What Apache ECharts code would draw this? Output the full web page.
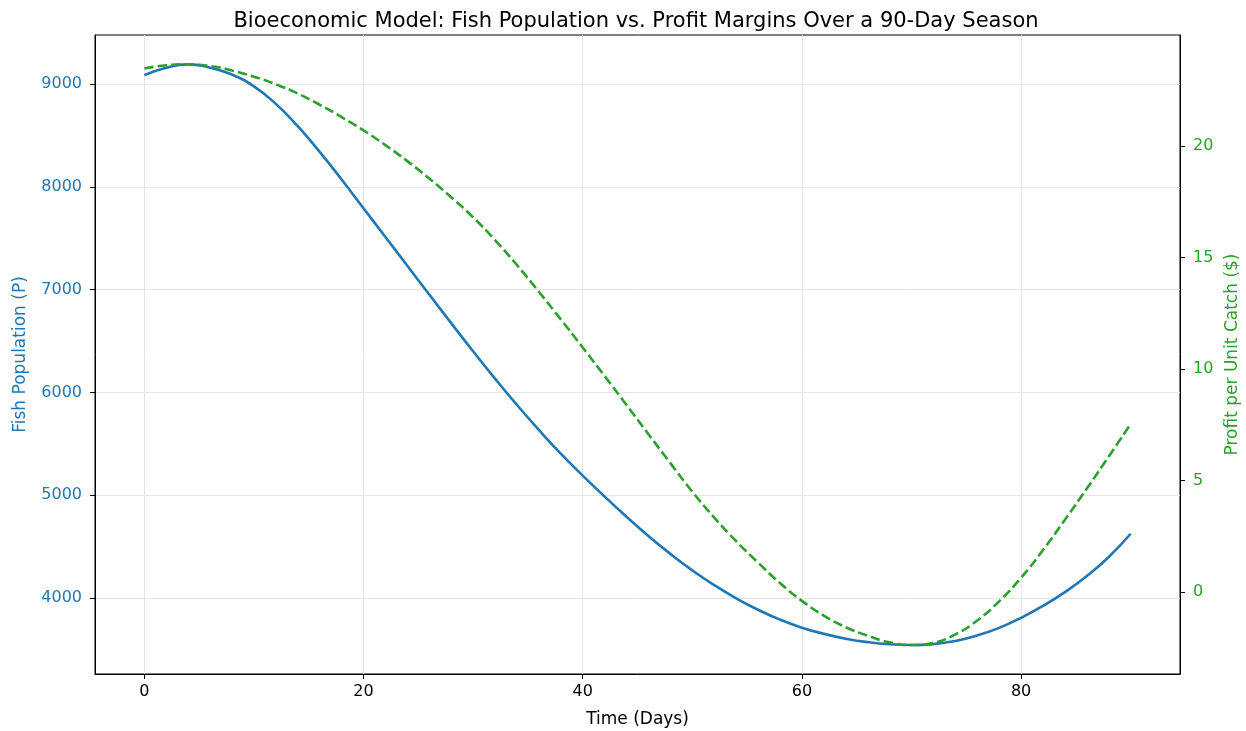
<!DOCTYPE html>
<html>
<head>
<meta charset="utf-8">
<script src="https://cdn.jsdelivr.net/npm/echarts@6/dist/echarts.min.js"></script>
<style>
  html, body { margin: 0; padding: 0; background: #fff; }
  #chart { width: 1246px; height: 731px; }
</style>
</head>
<body>
<div id="chart"></div>
<script>
// Season days sampled every 2 days
const days = [0, 2, 4, 6, 8, 10, 12, 14, 16, 18, 20, 22, 24, 26, 28, 30, 32, 34, 36, 38, 40,
  42, 44, 46, 48, 50, 52, 54, 56, 58, 60, 62, 64, 66, 68, 70, 72, 74, 76, 78, 80, 82, 84, 86, 88, 90];

// Fish population (P)
const population = [9088, 9160, 9192, 9160, 9093, 8978, 8808, 8590, 8340, 8072, 7792,
  7512, 7232, 6952, 6674, 6400, 6134, 5878, 5634, 5403, 5190,
  4986, 4790, 4602, 4428, 4268, 4124, 3996, 3884, 3788, 3710,
  3650, 3603, 3569, 3548, 3541, 3550, 3580, 3634, 3708, 3806,
  3922, 4056, 4212, 4398, 4624];

// Profit per unit catch ($)
const profit = [23.49, 23.63, 23.68, 23.60, 23.40, 23.12, 22.78, 22.36, 21.86, 21.31, 20.71,
  20.05, 19.33, 18.55, 17.71, 16.81, 15.79, 14.67, 13.47, 12.23, 10.97,
  9.69, 8.39, 7.08, 5.78, 4.50, 3.34, 2.28, 1.32, 0.40, -0.40,
  -1.06, -1.58, -1.96, -2.26, -2.38, -2.28, -1.90, -1.28, -0.42, 0.64,
  1.88, 3.24, 4.64, 6.08, 7.54];

const xTicks = [0, 20, 40, 60, 80];
const popTicks = [4000, 5000, 6000, 7000, 8000, 9000];
const profitTicks = [0, 5, 10, 15, 20];

const BLUE = '#1f77b4';
const GREEN = '#2ca02c';
const FONT = "'DejaVu Sans', sans-serif";
const GRID_LINE = '#e5e5e5';

const pairs = (xs, ys) => xs.map((x, i) => [x, ys[i]]);
const plain = v => String(v);

const chart = echarts.init(document.getElementById('chart'), null, { renderer: 'canvas' });
chart.setOption({
  animation: false,
  backgroundColor: '#fff',
  textStyle: { fontFamily: FONT },
  title: {
    text: 'Bioeconomic Model: Fish Population vs. Profit Margins Over a 90-Day Season',
    left: 631, top: 6, textAlign: 'center',
    textStyle: { fontFamily: FONT, fontSize: 21, fontWeight: 'normal', color: '#000' }
  },
  grid: {
    left: 95, right: 66, top: 35, bottom: 57,
    outerBoundsMode: 'none', containLabel: false,
    show: true, borderColor: '#000', borderWidth: 1, backgroundColor: 'transparent'
  },
  xAxis: {
    type: 'value', min: -4.5, max: 94.5,
    name: 'Time (Days)', nameLocation: 'middle', nameGap: 37,
    nameTextStyle: { fontFamily: FONT, fontSize: 17, color: '#000' },
    axisLine: { show: true, onZero: false, lineStyle: { color: '#000', width: 1 } },
    axisTick: { show: true, customValues: xTicks, length: 5, lineStyle: { color: '#000' } },
    axisLabel: { customValues: xTicks, formatter: plain, margin: 10, fontFamily: FONT, fontSize: 16, color: '#000' },
    splitLine: { show: true, customValues: xTicks, lineStyle: { color: GRID_LINE, width: 1 } }
  },
  yAxis: [
    {
      type: 'value', position: 'left', min: 3259, max: 9478,
      name: 'Fish Population (P)', nameLocation: 'middle', nameGap: 66, nameRotate: 90,
      nameTextStyle: { fontFamily: FONT, fontSize: 17, color: BLUE },
      axisLine: { show: true, onZero: false, lineStyle: { color: '#000' } },
      axisTick: { show: true, customValues: popTicks, length: 5, lineStyle: { color: '#000' } },
      axisLabel: { customValues: popTicks, formatter: plain, margin: 13, fontFamily: FONT, fontSize: 16, color: BLUE },
      splitLine: { show: true, customValues: popTicks, lineStyle: { color: GRID_LINE, width: 1 } }
    },
    {
      type: 'value', position: 'right', min: -3.68, max: 24.99,
      name: 'Profit per Unit Catch ($)', nameLocation: 'middle', nameGap: 37, nameRotate: 90,
      nameTextStyle: { fontFamily: FONT, fontSize: 17, color: GREEN },
      axisLine: { show: true, onZero: false, lineStyle: { color: '#000' } },
      axisTick: { show: true, customValues: profitTicks, length: 5, lineStyle: { color: '#000' } },
      axisLabel: { customValues: profitTicks, formatter: plain, margin: 13, fontFamily: FONT, fontSize: 16, color: GREEN },
      splitLine: { show: false }
    }
  ],
  series: [
    {
      name: 'Fish Population', type: 'line', yAxisIndex: 0,
      data: pairs(days, population), smooth: true, showSymbol: false,
      lineStyle: { color: BLUE, width: 2.6 }, z: 2
    },
    {
      name: 'Profit per Unit Catch', type: 'line', yAxisIndex: 1,
      data: pairs(days, profit), smooth: true, showSymbol: false,
      lineStyle: { color: GREEN, width: 2.6, type: [9.5, 4] }, z: 3
    }
  ]
});
</script>
</body>
</html>
